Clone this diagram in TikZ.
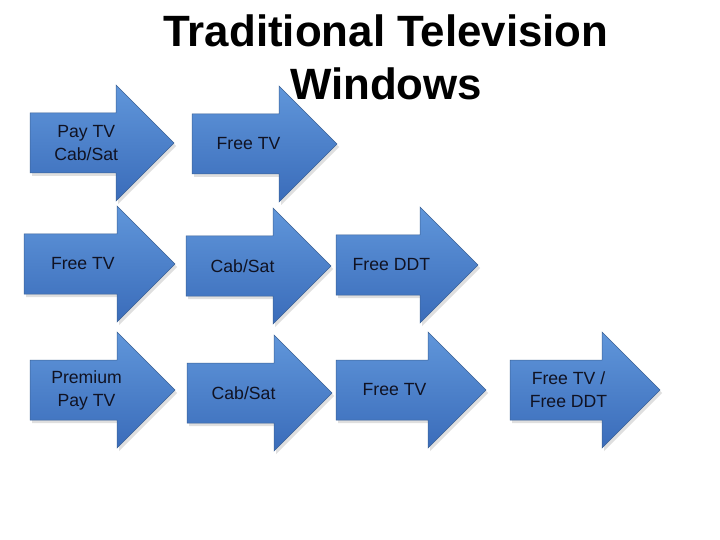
\documentclass[tikz,border=0pt]{standalone}
\usepackage{fontspec}
\setmainfont{Liberation Sans}
\usepackage{tikz}
\usetikzlibrary{shadows}

\definecolor{arrowtop}{RGB}{96,150,218}
\definecolor{arrowbot}{RGB}{58,108,186}
\definecolor{arrowline}{RGB}{60,98,150}
\definecolor{wintextcol}{RGB}{16,18,34}

\tikzset{
  winfill/.style={top color=arrowtop, bottom color=arrowbot,
    draw=arrowline, line width=0.5bp, line join=miter,
    drop shadow={opacity=0.25, shadow xshift=2bp, shadow yshift=-3bp}},
  wintext/.style={font=\fontsize{17.7}{23}\selectfont, text=wintextcol,
    align=center, inner sep=0pt}
}

% name, left x, centre y, length, text
\newcommand\winarrow[5]{%
  \path[winfill] (#2,#3-30) -- (#2+#4-58,#3-30) -- (#2+#4-58,#3-58)
    -- (#2+#4,#3) -- (#2+#4-58,#3+58) -- (#2+#4-58,#3+30)
    -- (#2,#3+30) -- cycle;
  \node[wintext] (#1) at (#2+0.39*#4,#3) {#5};
}

\begin{document}
\begin{tikzpicture}[x=1bp, y=-1bp]
\useasboundingbox (0,0) rectangle (720,540);
\fill[white] (0,0) rectangle (720,540);

% first row
\winarrow{paycab}{30}{143}{144}{Pay TV\\Cab/Sat}
\winarrow{freeA}{192}{144}{145}{Free TV}
% second row
\winarrow{freeB}{24}{264}{151}{Free TV}
\winarrow{cabA}{186}{266}{145}{Cab/Sat}
\winarrow{ddt}{336}{265}{142}{Free DDT}
% third row
\winarrow{premium}{30}{390}{145}{Premium\\Pay TV}
\winarrow{cabB}{187}{393}{145}{Cab/Sat}
\winarrow{freeC}{336}{390}{150}{Free TV}
\winarrow{freeddt}{510}{390}{150}{Free TV /\\Free DDT}

% title on top
\node[font=\fontsize{44}{53}\selectfont\bfseries, align=center]
  (title) at (386,57) {Traditional Television\\Windows};
\end{tikzpicture}
\end{document}
